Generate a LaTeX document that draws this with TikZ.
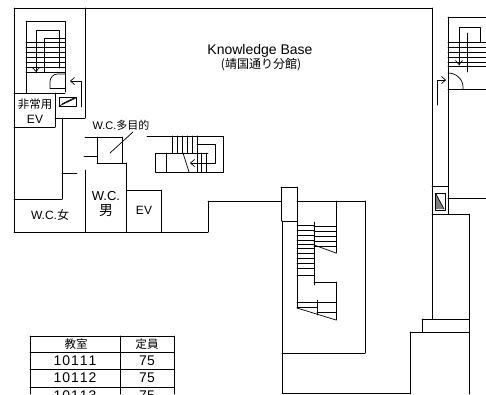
\documentclass[tikz,border=0pt]{standalone}
\usepackage{fontspec}
\setmainfont{Liberation Sans}
\newfontfamily\cjk{Noto Sans CJK JP}
\usetikzlibrary{arrows.meta}
\tikzset{
  wall/.style={line width=0.95pt},
  tread/.style={line width=0.7pt},
  lbl/.style={inner sep=0pt,font=\fontsize{12}{14}\selectfont,align=center},
  cell/.style={inner sep=0pt,font=\fontsize{14}{17}\selectfont},
}
\begin{document}
\begin{tikzpicture}[line cap=round,line join=round,>={Straight Barb[length=4pt,width=7pt]},x=1.0pt,y=-1.0pt]
\useasboundingbox (0,0) rectangle (486,394);
\fill[white] (0,0) rectangle (486,394);
\begin{scope}[wall]
\draw (14,8)-- (432,8);
\draw (14,8)-- (14,232);
\draw (14,232)-- (208,232);
\draw (85,8)-- (85,118);
\draw (55,118)-- (85,118);
\draw (14,93)-- (65,93);
\draw (55,93)-- (55,127);
\draw (14,127)-- (55,127);
\draw (62,118)-- (62,199);
\draw (14,199)-- (62,199);
\draw (62,173)-- (77,173);
\draw (85,170)-- (85,232);
\draw (85,137)-- (97,137);
\draw (84,156)-- (97,156);
\draw (97,137)-- (122,137);
\draw (122,137)-- (122,163);
\draw (122,163)-- (97,163);
\draw (97,163)-- (97,137);
\draw (122,163)-- (126,163);
\draw (126,163)-- (126,232);
\draw (127,190)-- (161,190);
\draw (161,190)-- (161,232);
\draw (208,232)-- (208,201);
\draw (208,201)-- (281,201);
\draw (281,187)-- (297,187);
\draw (297,187)-- (297,221);
\draw (297,221)-- (282,221);
\draw (281,187)-- (281,221);
\draw (282,221)-- (282,393);
\draw (297,201)-- (365,201);
\draw (365,201)-- (365,353);
\draw (282,353)-- (365,353);
\draw (282,393)-- (410,393);
\draw (432,8)-- (432,319);
\draw (432,186)-- (448,186);
\draw (448,17)-- (448,214);
\draw (448,17)-- (486,17);
\draw (448,89)-- (486,89);
\draw (448,198)-- (486,198);
\draw (432,214)-- (469,214);
\draw (469,214)-- (469,394);
\draw (422,319)-- (469,319);
\draw (422,319)-- (422,332);
\draw (410,332)-- (469,332);
\draw (410,332)-- (410,394);
\end{scope}
% left stair
\draw[wall] (26,21)-- (65,21)-- (65,92);
\draw[wall] (26,21)-- (26,93);
\draw[tread] (36,73)-- (36,30)-- (59,30)-- (59,68);
\draw[tread] (44,72)-- (44,38)-- (65,38);
\foreach \y in {42,47,52,57,62,67,72} \draw[tread] (26,\y)-- (65,\y);
\draw[tread,->] (36,62)-- (36,72);
\draw[tread] (50,88)-- (65,88);
\draw[tread] (50,88)-- (50,82) arc (180:90:7.5 and -8)-- (65,74);
\draw[tread,->] (81,107)-- (81,81)-- (70,81);
\draw[wall] (59,97) rectangle (76,106);
\draw[tread] (59,106)-- (76,98);
\draw[tread] (62,104)-- (74,98);
% middle stair
\draw[wall] (147,136)-- (223,136)-- (223,172)-- (155,172)-- (155,153)-- (183,153);
\draw[wall] (166,153)-- (166,172);
\draw[tread,->] (197,144)-- (215,144)-- (215,163)-- (190,163);
\draw[tread] (183,153)-- (208,153);
\draw[tread] (183,153)-- (189,172);
\foreach \x in {172,177,182,187,192,197} \draw[tread] (\x,136)-- (\x,153);
\foreach \x in {197,201,206} \draw[tread] (\x,153)-- (\x,172);
% long stair
\draw[wall] (297,221)-- (297,308);
\draw[wall] (314,222)-- (314,285);
\foreach \y in {225,230,235,240,244,248,253,258,263,268,275} \draw[tread] (297,\y)-- (314,\y);
\foreach \y in {226,231,236,241,246} \draw[tread] (314,\y)-- (336,\y);
\draw[wall] (336,201)-- (336,253);
\draw[tread] (314,245)-- (336,253);
\draw[wall] (314,282)-- (336,282);
\draw[wall] (336,282)-- (336,320);
\draw[tread] (297,308)-- (336,320);
\draw[tread] (297,302)-- (336,302);
\draw[tread] (297,307)-- (317,307);
\draw[tread] (317,300)-- (317,315);
\draw[tread] (317,312)-- (336,312);
% right stair
\draw[wall] (459,65)-- (459,27)-- (480,27)-- (480,42);
\draw[tread,->] (459,55)-- (459,65);
\draw[tread] (467,33)-- (467,72);
\foreach \y in {42,47,52,57,62,66} \draw[tread] (448,\y)-- (486,\y);
\draw[tread] (448,73) arc (90:0:15 and -14)-- (463,89);
\draw[tread,->] (437,105)-- (437,80)-- (446,80);
\draw[wall] (435,193) rectangle (445,210);
\fill[gray] (436,194)-- (444,209)-- (436,209)-- cycle;
\draw[tread] (436,194)-- (444,209);
% door line in wc
\draw[tread] (110,153)-- (133,132);
% labels
\node[lbl,font=\fontsize{14}{16}\selectfont] (kb) at (260,51) {Knowledge Base};
\node[lbl,font=\fontsize{12}{14}\selectfont\cjk] (kbsub) at (261,65) {(靖国通り分館)};
\node[lbl,font=\fontsize{11.5}{13}\selectfont\cjk] (evA) at (35,104) {非常用};
\node[lbl] (evB) at (35,119) {EV};
\node[lbl,font=\fontsize{11}{13}\selectfont] (wcmulti) at (121,125) {W.C.{\cjk 多目的}};
\node[lbl,font=\fontsize{13}{15}\selectfont] (wcman) at (106,196) {W.C.};
\node[lbl,font=\fontsize{14}{16}\selectfont\cjk] (man) at (106,211) {男};
\node[lbl] (ev) at (144,210) {EV};
\node[lbl] (wcwoman) at (50,215) {W.C.{\cjk 女}};
% table
\draw[wall] (30,336)-- (174,336);
\draw[wall] (30,336)-- (30,394);
\draw[wall] (120,336)-- (120,394);
\draw[wall] (174,336)-- (174,394);
\draw[wall] (30,352)-- (174,352);
\draw[wall] (30,369)-- (174,369);
\draw[wall] (30,387)-- (174,387);
\node[lbl,font=\fontsize{11.5}{13}\selectfont\cjk] (room) at (76,344) {教室};
\node[lbl,font=\fontsize{11.5}{13}\selectfont\cjk] (seats) at (147,344) {定員};
\node[cell] (roomA) at (75,361) {1\kern1pt0\kern1pt1\kern1pt1\kern1pt1};
\node[cell] (seatsA) at (147,361) {75};
\node[cell] (roomB) at (75,378) {1\kern1pt0\kern1pt1\kern1pt1\kern1pt2};
\node[cell] (seatsB) at (147,378) {75};
\node[cell] (roomC) at (75,396) {1\kern1pt0\kern1pt1\kern1pt1\kern1pt3};
\node[cell] (seatsC) at (147,396) {75};
\end{tikzpicture}
\end{document}
